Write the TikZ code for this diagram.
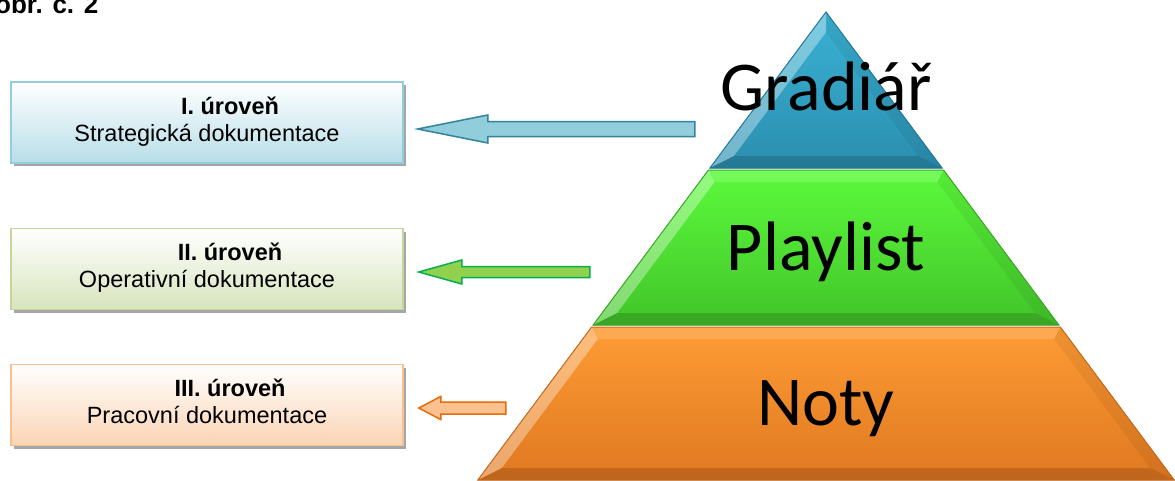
\documentclass[tikz,border=0pt]{standalone}
\usepackage{fontspec}
\setmainfont{Liberation Sans}
\newfontfamily\pyrfont{Carlito}
\usetikzlibrary{calc,positioning,shadows}

\definecolor{lvlAline}{HTML}{93CDDD}
\definecolor{lvlAfill}{HTML}{B7DEE8}
\definecolor{lvlBline}{HTML}{C3D69B}
\definecolor{lvlBfill}{HTML}{D7E4BD}
\definecolor{lvlCline}{HTML}{FAC090}
\definecolor{lvlCfill}{HTML}{FBD4B4}
\definecolor{arrAfill}{HTML}{92CDDC}
\definecolor{arrAline}{HTML}{31849B}
\definecolor{arrBfill}{HTML}{92D050}
\definecolor{arrBline}{HTML}{00B050}
\definecolor{arrCfill}{HTML}{FAC090}
\definecolor{arrCline}{HTML}{E46C0A}
\definecolor{pyrAup}{HTML}{3AB2D4}
\definecolor{pyrAdn}{HTML}{2B8EAF}
\definecolor{pyrAedge}{HTML}{25789A}
\definecolor{pyrBup}{HTML}{5CFA3C}
\definecolor{pyrBdn}{HTML}{42C42A}
\definecolor{pyrBedge}{HTML}{3AA825}
\definecolor{pyrCup}{HTML}{FD9C35}
\definecolor{pyrCdn}{HTML}{E07820}
\definecolor{pyrCedge}{HTML}{C8681A}

\begin{document}
\begin{tikzpicture}[x=1pt,y=-1pt,>=stealth,
		lvlbox/.style={draw, line width=1.5pt, minimum width=392pt, minimum height=81pt,
			drop shadow={shadow xshift=3pt, shadow yshift=-3pt, fill=black!35, opacity=1}},
		lvltitle/.style={anchor=base, inner sep=0pt, font=\bfseries\fontsize{23.5}{27}\selectfont},
		lvltext/.style={anchor=base, inner sep=0pt, font=\fontsize{23.5}{27}\selectfont},
		pyrtext/.style={anchor=base, inner sep=0pt, font=\pyrfont\fontsize{70}{84}\selectfont},
		blockarrow/.style={line width=1.5pt, line join=miter}]
	\useasboundingbox (0,0) rectangle (1175,480);

	\node[anchor=base west, inner sep=0pt, font=\bfseries\fontsize{26}{30}\selectfont] (obr) at (-5,13) {obr. č. 2};

	% pyramid tiers
	\foreach \name/\ya/\yb/\cup/\cdn/\cedge in {A/12/168/pyrAup/pyrAdn/pyrAedge,
			B/170/325/pyrBup/pyrBdn/pyrBedge, C/327/480/pyrCup/pyrCdn/pyrCedge}{
		\pgfmathsetmacro\wa{(\ya-12)*0.744}
		\pgfmathsetmacro\wb{(\yb-12)*0.744}
		\pgfmathsetmacro\yi{max(\ya+12,32)}
		\pgfmathsetmacro\wi{(\yi-12)*0.744-15}
		\pgfmathsetmacro\yj{\yb-12}
		\pgfmathsetmacro\wj{(\yj-12)*0.744-15}
		\coordinate (\name tl) at (826-\wa,\ya);
		\coordinate (\name tr) at (826+\wa,\ya);
		\coordinate (\name br) at (826+\wb,\yb);
		\coordinate (\name bl) at (826-\wb,\yb);
		\coordinate (\name itl) at (826-\wi,\yi);
		\coordinate (\name itr) at (826+\wi,\yi);
		\coordinate (\name ibr) at (826+\wj,\yj);
		\coordinate (\name ibl) at (826-\wj,\yj);
		\fill[top color=\cup, bottom color=\cdn] (\name tl) -- (\name tr) -- (\name br) -- (\name bl) -- cycle;
		\fill[white, opacity=.35] (\name tl) -- (\name bl) -- (\name ibl) -- (\name itl) -- cycle;
		\fill[white, opacity=.15] (\name tl) -- (\name tr) -- (\name itr) -- (\name itl) -- cycle;
		\fill[black, opacity=.06] (\name tr) -- (\name br) -- (\name ibr) -- (\name itr) -- cycle;
		\fill[black, opacity=.15] (\name bl) -- (\name br) -- (\name ibr) -- (\name ibl) -- cycle;
		\draw[\cedge, line width=1pt] (\name tl) -- (\name tr) -- (\name br) -- (\name bl) -- cycle;
	}

	\node[pyrtext] (gradiar) at (826,110) {Gradiář};
	\node[pyrtext] (playlist) at (826,270) {Playlist};
	\node[pyrtext] (noty) at (826,425) {Noty};

	% levels
	\node[lvlbox, draw=lvlAline, top color=white, bottom color=lvlAfill] (lvl1) at (207,122.5) {};
	\node[lvlbox, draw=lvlBline, top color=white, bottom color=lvlBfill] (lvl2) at (207,269) {};
	\node[lvlbox, draw=lvlCline, top color=white, bottom color=lvlCfill] (lvl3) at (207,405) {};

	\node[lvltitle] (lvl1title) at ($(lvl1.north)+(23,33)$) {I. úroveň};
	\node[lvltext] (lvl1text) at ($(lvl1.north)+(0,60)$) {Strategická dokumentace};
	\node[lvltitle] (lvl2title) at ($(lvl2.north)+(23,33)$) {II. úroveň};
	\node[lvltext] (lvl2text) at ($(lvl2.north)+(0,60)$) {Operativní dokumentace};
	\node[lvltitle] (lvl3title) at ($(lvl3.north)+(23,33)$) {III. úroveň};
	\node[lvltext] (lvl3text) at ($(lvl3.north)+(0,60)$) {Pracovní dokumentace};

	% arrows from the tiers to the levels
	\coordinate (tip1) at ($(lvl1.east)+(14,6.5)$);
	\coordinate (tip2) at ($(lvl2.east)+(15,3)$);
	\coordinate (tip3) at ($(lvl3.east)+(15,3)$);

	\draw[blockarrow, draw=arrAline, fill=arrAfill] (tip1) -- ++(70,-14) -- ++(0,6.5) -- ++(207,0)
		-- ++(0,15) -- ++(-207,0) -- ++(0,6.5) -- cycle;
	\draw[blockarrow, draw=arrBline, fill=arrBfill] (tip2) -- ++(43,-12) -- ++(0,6.5) -- ++(128,0)
		-- ++(0,11) -- ++(-128,0) -- ++(0,6.5) -- cycle;
	\draw[blockarrow, draw=arrCline, fill=arrCfill] (tip3) -- ++(22,-11.5) -- ++(0,5.5) -- ++(65,0)
		-- ++(0,12) -- ++(-65,0) -- ++(0,5.5) -- cycle;

\end{tikzpicture}
\end{document}
